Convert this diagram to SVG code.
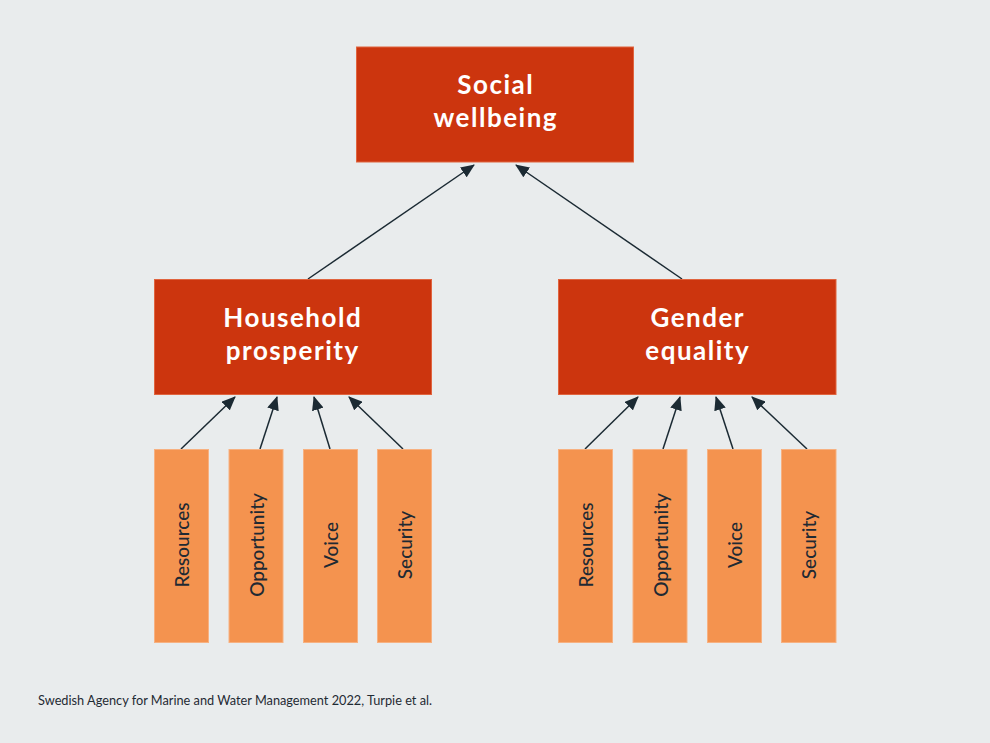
<svg xmlns="http://www.w3.org/2000/svg" width="990" height="743" viewBox="0 0 990 743">
<defs>
<marker id="ah" markerUnits="userSpaceOnUse" markerWidth="14" markerHeight="12" viewBox="0 0 14 12" refX="13" refY="6" orient="auto">
<path d="M0,0 L14,6 L0,12 Z" fill="#1b2a33"/>
</marker>
<style>
.big{fill:#cc350e;stroke:#e0643f;stroke-width:1}
.small{fill:#f4934f;stroke:#f7b181;stroke-width:1}
.bt{font-family:Lato,"Noto Sans",sans-serif;font-weight:bold;font-size:26px;letter-spacing:1.5px;fill:#ffffff;text-anchor:middle}
.st{font-family:Lato,"Noto Sans",sans-serif;font-size:19px;font-weight:500;fill:#1f2a33;text-anchor:middle;dominant-baseline:central}
.cn{stroke:#1b2a33;stroke-width:1.5;fill:none;marker-end:url(#ah)}
.ft{font-family:Lato,"Noto Sans",sans-serif;font-size:12.75px;fill:#1f2a33}
</style>
</defs>
<rect width="990" height="743" fill="#e9eced"/>
<g id="connectors">
<line class="cn" x1="308" y1="279" x2="474" y2="165"/>
<line class="cn" x1="682" y1="279" x2="516" y2="165"/>
<line class="cn" x1="181" y1="449" x2="235" y2="397"/>
<line class="cn" x1="260" y1="449" x2="277" y2="397"/>
<line class="cn" x1="330" y1="449" x2="314" y2="397"/>
<line class="cn" x1="403" y1="449" x2="349" y2="397"/>
<line class="cn" x1="585" y1="449" x2="638" y2="397"/>
<line class="cn" x1="663" y1="449" x2="680" y2="397"/>
<line class="cn" x1="733" y1="449" x2="716" y2="397"/>
<line class="cn" x1="807" y1="449" x2="752" y2="397"/>
</g>
<g id="social-wellbeing">
<rect class="big" x="356.5" y="47" width="277" height="115"/>
<text class="bt" x="495.75" y="94">Social</text>
<text class="bt" x="495.75" y="127">wellbeing</text>
</g>
<g id="household-prosperity">
<rect class="big" x="154.5" y="279.5" width="277" height="115"/>
<text class="bt" x="292.75" y="327">Household</text>
<text class="bt" x="292.75" y="360">prosperity</text>
</g>
<g id="gender-equality">
<rect class="big" x="558.5" y="279.5" width="277.5" height="115"/>
<text class="bt" x="697.75" y="327">Gender</text>
<text class="bt" x="697.75" y="360">equality</text>
</g>
<g id="hp-resources">
<rect class="small" x="154.5" y="449.5" width="54" height="193"/>
<text class="st" transform="translate(181.5,545) rotate(-90)">Resources</text>
</g>
<g id="hp-opportunity">
<rect class="small" x="229" y="449.5" width="54" height="193"/>
<text class="st" transform="translate(256,545) rotate(-90)">Opportunity</text>
</g>
<g id="hp-voice">
<rect class="small" x="303.5" y="449.5" width="54" height="193"/>
<text class="st" transform="translate(330.5,545) rotate(-90)">Voice</text>
</g>
<g id="hp-security">
<rect class="small" x="377.5" y="449.5" width="54" height="193"/>
<text class="st" transform="translate(404.5,545) rotate(-90)">Security</text>
</g>
<g id="ge-resources">
<rect class="small" x="558.5" y="449.5" width="54" height="193"/>
<text class="st" transform="translate(585.5,545) rotate(-90)">Resources</text>
</g>
<g id="ge-opportunity">
<rect class="small" x="633" y="449.5" width="54" height="193"/>
<text class="st" transform="translate(660,545) rotate(-90)">Opportunity</text>
</g>
<g id="ge-voice">
<rect class="small" x="707.5" y="449.5" width="54" height="193"/>
<text class="st" transform="translate(734.5,545) rotate(-90)">Voice</text>
</g>
<g id="ge-security">
<rect class="small" x="781.5" y="449.5" width="54.5" height="193"/>
<text class="st" transform="translate(808.5,545) rotate(-90)">Security</text>
</g>
<text class="ft" x="38" y="705">Swedish Agency for Marine and Water Management 2022, Turpie et al.</text>
</svg>
